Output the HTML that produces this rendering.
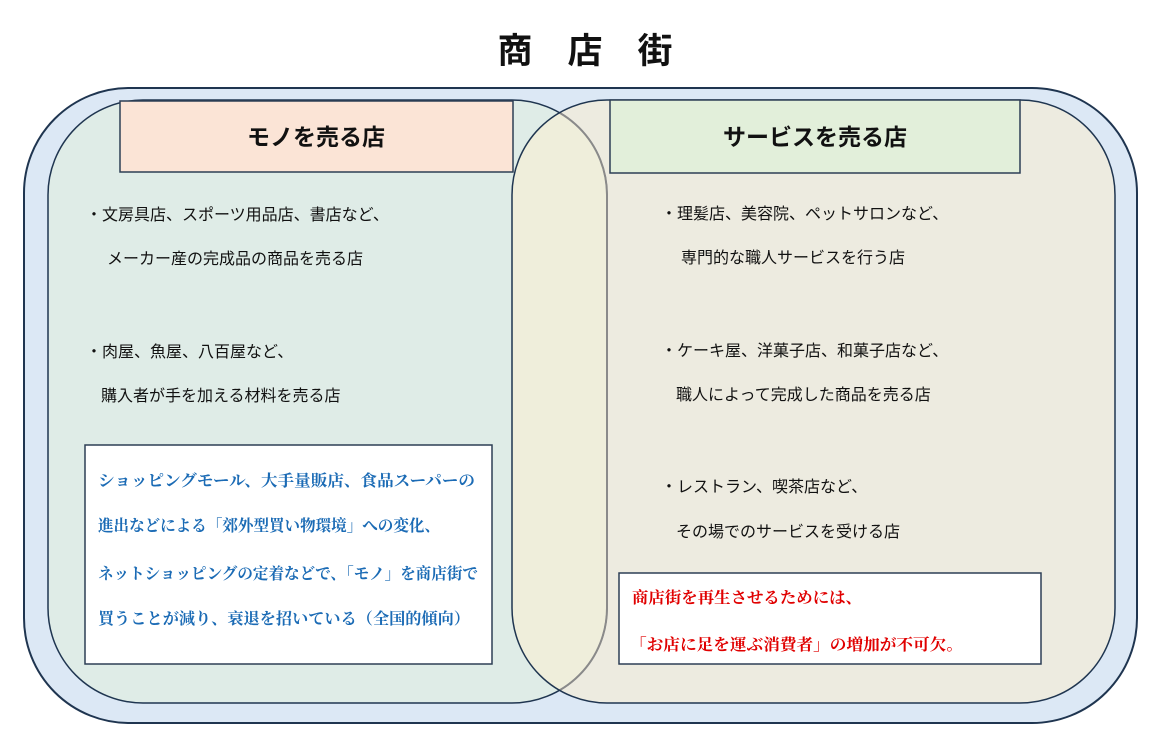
<!DOCTYPE html>
<html><head><meta charset="utf-8"><style>
html,body{margin:0;padding:0;background:#fff;}
svg{display:block;}
.t{font-family:"Liberation Sans","Noto Sans CJK JP",sans-serif;font-size:16px;fill:#111;}
.h{font-family:"Liberation Sans","Noto Sans CJK JP",sans-serif;font-size:23px;font-weight:bold;fill:#111;}
.b{font-family:"Liberation Serif","Noto Serif CJK SC",serif;font-size:16px;font-weight:bold;fill:#1b6bb5;}
.r{font-family:"Liberation Serif","Noto Serif CJK SC",serif;font-size:16px;font-weight:bold;fill:#e00000;}
</style></head><body>
<svg width="1168" height="747" viewBox="0 0 1168 747" xmlns="http://www.w3.org/2000/svg">
<defs>
<clipPath id="cl"><rect x="48" y="100" width="559" height="603" rx="95" ry="95"/></clipPath>
<clipPath id="cr"><rect x="512" y="100" width="603" height="603" rx="95" ry="95"/></clipPath>
</defs>
<text x="515" y="63" text-anchor="middle" font-family="Liberation Sans,'Noto Sans CJK JP',sans-serif" font-size="35" font-weight="bold" fill="#111">商</text>
<text x="585" y="63" text-anchor="middle" font-family="Liberation Sans,'Noto Sans CJK JP',sans-serif" font-size="35" font-weight="bold" fill="#111">店</text>
<text x="655" y="63" text-anchor="middle" font-family="Liberation Sans,'Noto Sans CJK JP',sans-serif" font-size="35" font-weight="bold" fill="#111">街</text>
<rect x="24" y="88" width="1113" height="635" rx="105" ry="105" fill="#dce8f5" stroke="#1f3550" stroke-width="2"/>
<rect x="48" y="100" width="559" height="603" rx="95" ry="95" fill="#dfece7"/>
<rect x="512" y="100" width="603" height="603" rx="95" ry="95" fill="#edebe0"/>
<rect x="512" y="100" width="603" height="603" rx="95" ry="95" fill="#efeedb" clip-path="url(#cl)"/>
<rect x="48" y="100" width="559" height="603" rx="95" ry="95" fill="none" stroke="#1f3550" stroke-width="1.5"/>
<rect x="48" y="100" width="559" height="603" rx="95" ry="95" fill="none" stroke="#8a8a8a" stroke-width="2" clip-path="url(#cr)"/>
<rect x="512" y="100" width="603" height="603" rx="95" ry="95" fill="none" stroke="#1f3550" stroke-width="1.5"/>
<rect x="120" y="101" width="393" height="71" fill="#fbe4d6" stroke="#2d3e55" stroke-width="1.5"/>
<text class="h" x="316" y="145" text-anchor="middle">モノを売る店</text>
<rect x="610" y="100" width="410" height="73" fill="#e2efda" stroke="#2d3e55" stroke-width="1.5"/>
<text class="h" x="815" y="145" text-anchor="middle">サービスを売る店</text>

<text class="t" x="86" y="220">・文房具店、スポーツ用品店、書店など、</text>
<text class="t" x="107" y="264">メーカー産の完成品の商品を売る店</text>
<text class="t" x="86" y="357">・肉屋、魚屋、八百屋など、</text>
<text class="t" x="101" y="401">購入者が手を加える材料を売る店</text>

<text class="t" x="661" y="219">・理髪店、美容院、ペットサロンなど、</text>
<text class="t" x="681" y="263">専門的な職人サービスを行う店</text>
<text class="t" x="661" y="356">・ケーキ屋、洋菓子店、和菓子店など、</text>
<text class="t" x="676" y="400">職人によって完成した商品を売る店</text>
<text class="t" x="661" y="492">・レストラン、喫茶店など、</text>
<text class="t" x="676" y="537">その場でのサービスを受ける店</text>

<rect x="85" y="445" width="407" height="219" fill="#fff" stroke="#2d3e55" stroke-width="1.5"/>
<text class="b" x="98" y="486" textLength="377" lengthAdjust="spacingAndGlyphs">ショッピングモール、大手量販店、食品スーパーの</text>
<text class="b" x="98" y="531" textLength="342" lengthAdjust="spacingAndGlyphs">進出などによる「郊外型買い物環境」への変化、</text>
<text class="b" x="98" y="579" textLength="380" lengthAdjust="spacingAndGlyphs">ネットショッピングの定着などで、「モノ」を商店街で</text>
<text class="b" x="98" y="624" textLength="372" lengthAdjust="spacingAndGlyphs">買うことが減り、衰退を招いている（全国的傾向）</text>

<rect x="619" y="573" width="422" height="91" fill="#fff" stroke="#2d3e55" stroke-width="1.5"/>
<text class="r" x="632" y="603" textLength="230" lengthAdjust="spacingAndGlyphs">商店街を再生させるためには、</text>
<text class="r" x="630" y="650" textLength="333" lengthAdjust="spacingAndGlyphs">「お店に足を運ぶ消費者」の増加が不可欠。</text>
</svg>
</body></html>
